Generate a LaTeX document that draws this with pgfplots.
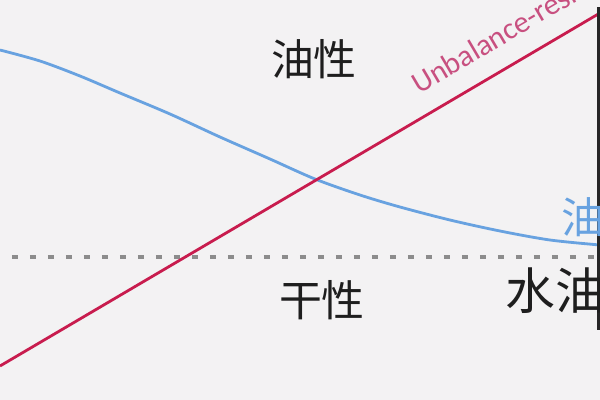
\documentclass[border=0pt]{standalone}
\usepackage{pgfplots}
\pgfplotsset{compat=1.18}
\usepackage{fontspec}
\setmainfont{Carlito}
\newfontfamily\cjk{Noto Sans CJK SC}

\definecolor{bgcol}{RGB}{243,242,243}
\definecolor{oilblue}{RGB}{104,162,224}
\definecolor{linered}{RGB}{200,28,78}
\definecolor{pinktext}{RGB}{200,80,128}
\definecolor{dotgray}{RGB}{140,140,140}
\definecolor{inkgray}{RGB}{30,30,30}

\begin{document}
\begin{tikzpicture}
  % picture is 600 x 400 "pixels", 1px = 0.01in
  \useasboundingbox (0,0) rectangle (6in,4in);
  \clip (0,0) rectangle (6in,4in);
  \fill[bgcol] (0,0) rectangle (6in,4in);
  \begin{axis}[
      at={(0,0)}, anchor=south west,
      width=6in, height=4in,
      scale only axis,
      xmin=0, xmax=600,
      ymin=0, ymax=400,
      y dir=reverse,
      hide axis,
      clip=true
    ]

    % ----------------------------------------------------------------
    % dotted reference level
    % ----------------------------------------------------------------
    \addplot[dotgray, line width=0.045in,
             dash pattern=on 0.06in off 0.12in, dash phase=0.06in]
      coordinates {(0,257) (600,257)};

    % ----------------------------------------------------------------
    % oil curve (blue)
    % ----------------------------------------------------------------
    \addplot[oilblue, line width=0.028in, smooth] coordinates {
      (0,50) (40,61) (80,76) (120,93) (170,114) (220,137)
      (270,159) (315,179) (360,195) (400,207) (450,220)
      (500,231) (550,240) (600,245)
    };

    % ----------------------------------------------------------------
    % unbalance line (red)
    % ----------------------------------------------------------------
    \addplot[linered, line width=0.028in] coordinates {
      (0,366) (600,13)
    };

    \draw[black!85, line width=0.03in] (axis cs:598.5,7) -- (axis cs:598.5,330);

    \node[anchor=base west, rotate=30.5, text=pinktext,
          font=\fontsize{22}{22}\selectfont]
      at (axis cs:415,97) {Unbalance-resistance};

    \node[text=inkgray, font=\cjk\fontsize{31}{31}\selectfont]
      at (axis cs:314,59) {油性};
    \node[text=inkgray, font=\cjk\fontsize{31}{31}\selectfont]
      at (axis cs:322,300) {干性};
    \node[anchor=west, inner sep=0pt, text=inkgray, font=\cjk\fontsize{36}{36}\selectfont]
      at (axis cs:505,291) {水油};
    \node[anchor=west, inner sep=0pt, text=oilblue, font=\cjk\fontsize{31}{31}\selectfont]
      at (axis cs:561,217) {油};
  \end{axis}
\end{tikzpicture}
\end{document}
